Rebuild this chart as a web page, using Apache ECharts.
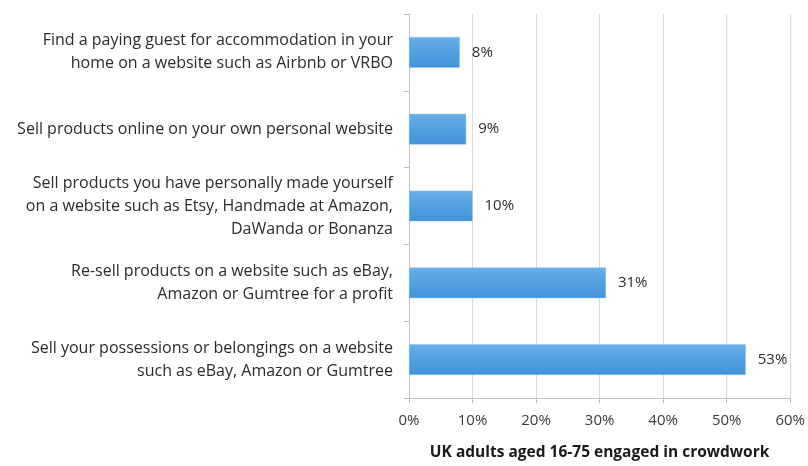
<!DOCTYPE html>
<html>
<head>
<meta charset="utf-8">
<script src="https://cdn.jsdelivr.net/npm/echarts@6/dist/echarts.min.js"></script>
<style>
  html, body { margin: 0; padding: 0; background: #ffffff; }
  #chart { width: 808px; height: 466px; }
</style>
</head>
<body>
<div id="chart"></div>
<script>
// bottom to top, as echarts category axis draws
const categories = [
  'Sell your possessions or belongings on a website\nsuch as eBay, Amazon or Gumtree',
  'Re-sell products on a website such as eBay,\nAmazon or Gumtree for a profit',
  'Sell products you have personally made yourself\non a website such as Etsy, Handmade at Amazon,\nDaWanda or Bonanza',
  'Sell products online on your own personal website',
  'Find a paying guest for accommodation in your\nhome on a website such as Airbnb or VRBO'
]
const values = [53, 31, 10, 9, 8]
const tickLabels = ['0%', '10%', '20%', '30%', '40%', '50%', '60%']

const chart = echarts.init(document.getElementById('chart'))
const font = '"Open Sans", Lato, sans-serif'

chart.setOption({
  backgroundColor: '#ffffff',
  animation: false,
  textStyle: { fontFamily: font },
  grid: {
    left: 409,
    right: 15,
    top: 14,
    bottom: 65
  },
  xAxis: {
    type: 'value',
    min: 0,
    max: 60,
    interval: 10,
    name: 'UK adults aged 16-75 engaged in crowdwork',
    nameLocation: 'middle',
    nameGap: 47,
    nameTextStyle: {
      fontFamily: font,
      fontSize: 15.5,
      fontWeight: 'bold',
      color: '#1a1a1a'
    },
    axisLine: { show: true, lineStyle: { color: '#bfbfbf' } },
    axisTick: { show: true, length: 5, lineStyle: { color: '#bfbfbf' } },
    axisLabel: {
      margin: 15,
      fontSize: 15,
      color: '#3a3a3a',
      formatter: v => tickLabels[v / 10]
    },
    splitLine: { show: true, lineStyle: { color: '#d9d9d9', width: 1 } }
  },
  yAxis: {
    type: 'category',
    data: categories,
    axisLine: { show: true, lineStyle: { color: '#bfbfbf' } },
    axisTick: { show: true, length: 5, lineStyle: { color: '#bfbfbf' } },
    axisLabel: {
      margin: 16,
      fontSize: 16,
      lineHeight: 23,
      color: '#2b2b2b',
      align: 'right'
    }
  },
  series: [{
    type: 'bar',
    data: values,
    barCategoryGap: '60%',
    itemStyle: {
      color: new echarts.graphic.LinearGradient(0, 0, 0, 1, [
        { offset: 0, color: '#6aafe8' },
        { offset: 0.5, color: '#529fe0' },
        { offset: 1, color: '#4592d8' }
      ]),
      borderColor: '#8cc4ee',
      borderWidth: 0.5
    },
    label: {
      show: true,
      position: 'right',
      distance: 12,
      fontSize: 15,
      color: '#2b2b2b',
      formatter: p => p.value + '%'
    }
  }]
})
</script>
</body>
</html>
